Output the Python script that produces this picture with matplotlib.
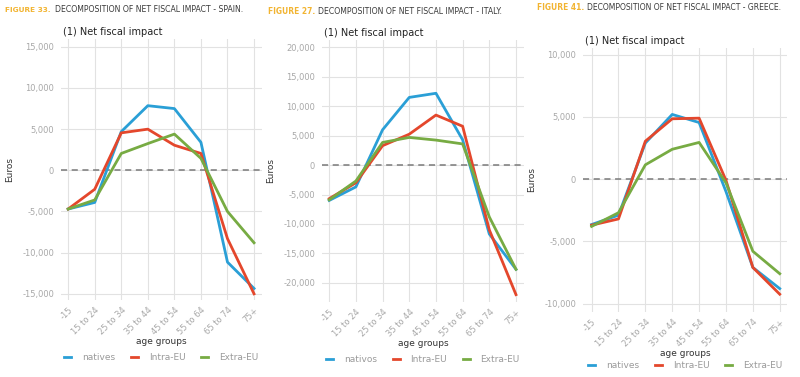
import matplotlib
matplotlib.use("Agg")
import matplotlib.pyplot as plt
from matplotlib.ticker import FuncFormatter

age_groups = ["-15", "15 to 24", "25 to 34", "35 to 44", "45 to 54", "55 to 64", "65 to 74", "75+"]

# Spain (Figure 33)
spain_natives = [-4700, -3900, 4700, 7850, 7500, 3400, -11150, -14350]
spain_intra = [-4700, -2300, 4550, 5000, 3050, 2050, -8300, -15000]
spain_extra = [-4700, -3600, 2050, 3250, 4400, 1450, -5000, -8800]

# Italy (Figure 27)
italy_natives = [-6000, -3700, 6000, 11500, 12200, 4300, -11700, -17700]
italy_intra = [-5700, -3000, 3300, 5250, 8500, 6600, -11000, -22000]
italy_extra = [-5900, -2700, 3850, 4700, 4250, 3600, -8800, -17700]

# Greece (Figure 41)
greece_natives = [-3650, -2900, 2900, 5200, 4550, -1000, -7100, -8800]
greece_intra = [-3700, -3200, 3050, 4850, 4900, -100, -7100, -9250]
greece_extra = [-3800, -2700, 1150, 2400, 2950, -300, -5800, -7600]

BLUE = "#2a9fd6"
RED = "#e4472c"
GREEN = "#77ab43"
ORANGE = "#f2b431"
GRID = "#e2e2e2"
TICK = "#a8a8a8"

W, H = 800, 377
fig = plt.figure(figsize=(8, 3.77), dpi=100)


def px_axes(left, top, right, bottom):
    return fig.add_axes([left / W, 1 - bottom / H, (right - left) / W, (bottom - top) / H])


def draw_panel(ax, natives, intra, extra, native_label, yticks, ylim, xlim):
    x = range(len(age_groups))
    ax.axhline(0, color="#7a7a7a", linestyle=(0, (4, 3)), linewidth=1.1, zorder=1)
    ax.plot(x, natives, color=BLUE, linewidth=2.0, label=native_label, zorder=3)
    ax.plot(x, intra, color=RED, linewidth=2.0, label="Intra-EU", zorder=3)
    ax.plot(x, extra, color=GREEN, linewidth=2.0, label="Extra-EU", zorder=3)

    ax.set_xlim(*xlim)
    ax.set_ylim(*ylim)
    ax.set_xticks(list(x))
    ax.set_xticklabels(age_groups, rotation=45, ha="right", rotation_mode="anchor")
    ax.set_yticks(yticks)
    ax.yaxis.set_major_formatter(FuncFormatter(lambda v, p: f"{int(v):,}"))
    ax.grid(True, color=GRID, linewidth=0.8)
    ax.set_axisbelow(True)
    for s in ax.spines.values():
        s.set_visible(False)
    ax.tick_params(length=0, labelsize=6, colors=TICK, pad=5)
    ax.tick_params(axis="x", pad=4)
    ax.set_xlabel("age groups", fontsize=6.5, color="#333333", labelpad=0)
    ax.set_ylabel("Euros", fontsize=6.5, color="#333333", labelpad=6)
    ax.set_title("(1) Net fiscal impact", fontsize=7, color="#222222", loc="left", pad=3, x=0.01)


def fit_text(x0, x1, y, s, **kw):
    # shrink the font so the text spans x0..x1 pixels
    t = fig.text(x0 / W, 1 - y / H, s, fontsize=7, va="center", **kw)
    fig.canvas.draw()
    w = t.get_window_extent().width
    t.set_fontsize(7 * (x1 - x0) / w)
    return t


def fig_title(xa, xb, xc, xd, y, num, rest):
    fit_text(xa, xb, y, num, fontweight="bold", color=ORANGE)
    fit_text(xc, xd, y, rest, color="#3a3a3a")


def legend(ax, cx, cy):
    ax.legend(loc="center", bbox_to_anchor=(cx / W, 1 - cy / H), bbox_transform=fig.transFigure,
              ncol=3, frameon=False, fontsize=6.5, labelcolor="#9a9a9a", handlelength=0.8,
              handletextpad=1.2, columnspacing=1.7)


ax1 = px_axes(61, 39, 262, 300)
draw_panel(ax1, spain_natives, spain_intra, spain_extra, "natives",
           [-15000, -10000, -5000, 0, 5000, 10000, 15000], (-15750, 15950), (-0.27, 7.3))
legend(ax1, 161, 358)

ax2 = px_axes(322, 40, 524, 302)
draw_panel(ax2, italy_natives, italy_intra, italy_extra, "nativos",
           [-20000, -15000, -10000, -5000, 0, 5000, 10000, 15000, 20000], (-23250, 21250), (-0.27, 7.3))
legend(ax2, 423, 360)

ax3 = px_axes(583, 48, 787, 312)
draw_panel(ax3, greece_natives, greece_intra, greece_extra, "natives",
           [-10000, -5000, 0, 5000, 10000], (-10680, 10540), (-0.32, 7.27))
legend(ax3, 685, 366)

fig_title(5, 51, 55, 245, 10, "FIGURE 33.", "DECOMPOSITION OF NET FISCAL IMPACT - SPAIN.")
fig_title(268, 315, 318, 504, 11, "FIGURE 27.", "DECOMPOSITION OF NET FISCAL IMPACT - ITALY.")
fig_title(537, 584, 587, 784, 8, "FIGURE 41.", "DECOMPOSITION OF NET FISCAL IMPACT - GREECE.")

fig.savefig("out.png", dpi=100)
